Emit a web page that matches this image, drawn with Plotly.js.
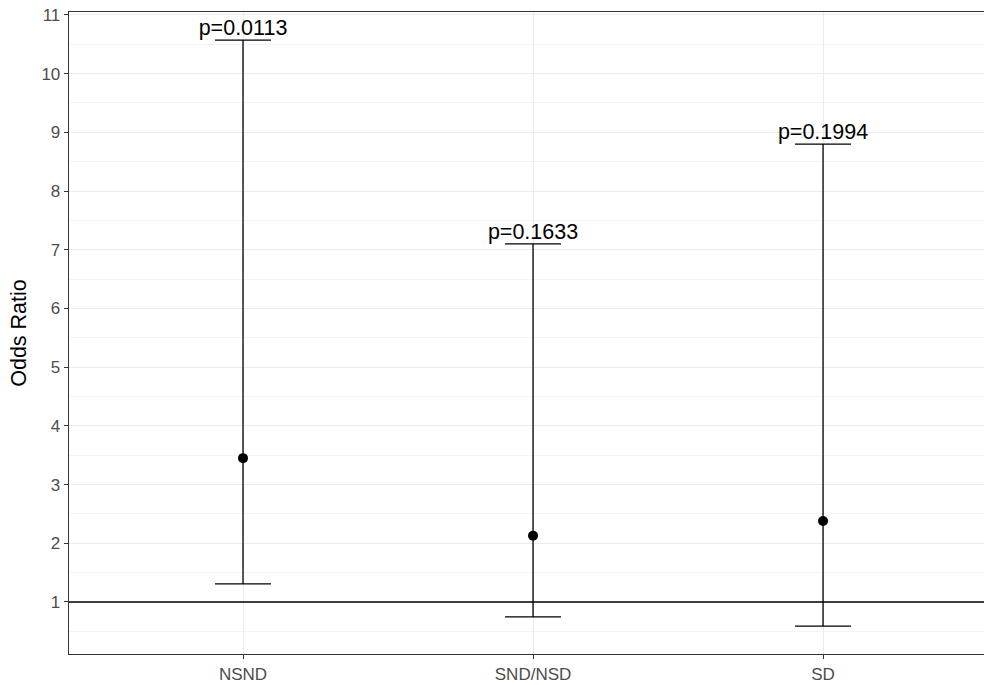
<!DOCTYPE html>
<html>
<head>
<meta charset="utf-8">
<script src="https://cdn.plot.ly/plotly-3.0.1.min.js"></script>
<style>html,body{margin:0;padding:0;background:#fff;}#chart{width:984px;height:685px;}</style>
</head>
<body>
<div id="chart"></div>
<script>
const categories = ["NSND", "SND/NSD", "SD"];
const oddsRatio = [3.45, 2.13, 2.38];
const lowerCI = [1.31, 0.745, 0.59];
const upperCI = [10.57, 7.10, 8.80];
const pLabels = ["p=0.0113", "p=0.1633", "p=0.1994"];
const yTicks = [1, 2, 3, 4, 5, 6, 7, 8, 9, 10, 11];

const idx = categories.map((c, i) => i);

const traces = [
  {
    type: "scatter",
    mode: "markers",
    x: idx,
    y: oddsRatio,
    marker: {color: "#000", size: 10},
    error_y: {
      type: "data",
      symmetric: false,
      array: upperCI.map((u, i) => u - oddsRatio[i]),
      arrayminus: lowerCI.map((l, i) => oddsRatio[i] - l),
      color: "#000",
      thickness: 1.3,
      width: 28
    },
    hoverinfo: "skip",
    showlegend: false
  },
  {
    type: "scatter",
    mode: "text",
    x: idx,
    y: upperCI,
    text: pLabels,
    textposition: "top center",
    textfont: {family: "Liberation Sans, Arial, sans-serif", size: 21.5, color: "#000"},
    hoverinfo: "skip",
    showlegend: false
  }
];

const layout = {
  width: 984,
  height: 685,
  margin: {l: 69, r: 0, t: 12, b: 31},
  paper_bgcolor: "#fff",
  plot_bgcolor: "#fff",
  font: {family: "Liberation Sans, Arial, sans-serif"},
  showlegend: false,
  xaxis: {
    range: [-0.6, 2.555],
    tickmode: "array",
    tickvals: idx,
    ticktext: categories,
    showgrid: true,
    gridcolor: "#ebebeb",
    gridwidth: 1,
    zeroline: false,
    showline: true,
    linecolor: "#333",
    linewidth: 1.3,
    mirror: true,
    ticks: "outside",
    ticklen: 4,
    tickcolor: "#333",
    tickfont: {size: 17, color: "#4d4d4d"}
  },
  yaxis: {
    range: [0.114, 11.05],
    tickmode: "array",
    tickvals: yTicks,
    showgrid: true,
    gridcolor: "#ebebeb",
    gridwidth: 1,
    zeroline: false,
    showline: true,
    linecolor: "#333",
    linewidth: 1.3,
    mirror: false,
    ticks: "outside",
    ticklen: 4,
    tickcolor: "#333",
    tickfont: {size: 17, color: "#4d4d4d"},
    minor: {dtick: 0.5, tick0: 0.5, showgrid: true, gridcolor: "#f4f4f4", gridwidth: 1, ticks: ""},
    title: {text: "Odds Ratio", font: {size: 21.5, color: "#000"}, standoff: 9}
  },
  shapes: [
    {type: "line", xref: "paper", x0: 0, x1: 1, yref: "y", y0: 1, y1: 1, line: {color: "#000", width: 1.3}}
  ]
};

Plotly.newPlot("chart", traces, layout, {displayModeBar: false, staticPlot: true});
</script>
</body>
</html>
